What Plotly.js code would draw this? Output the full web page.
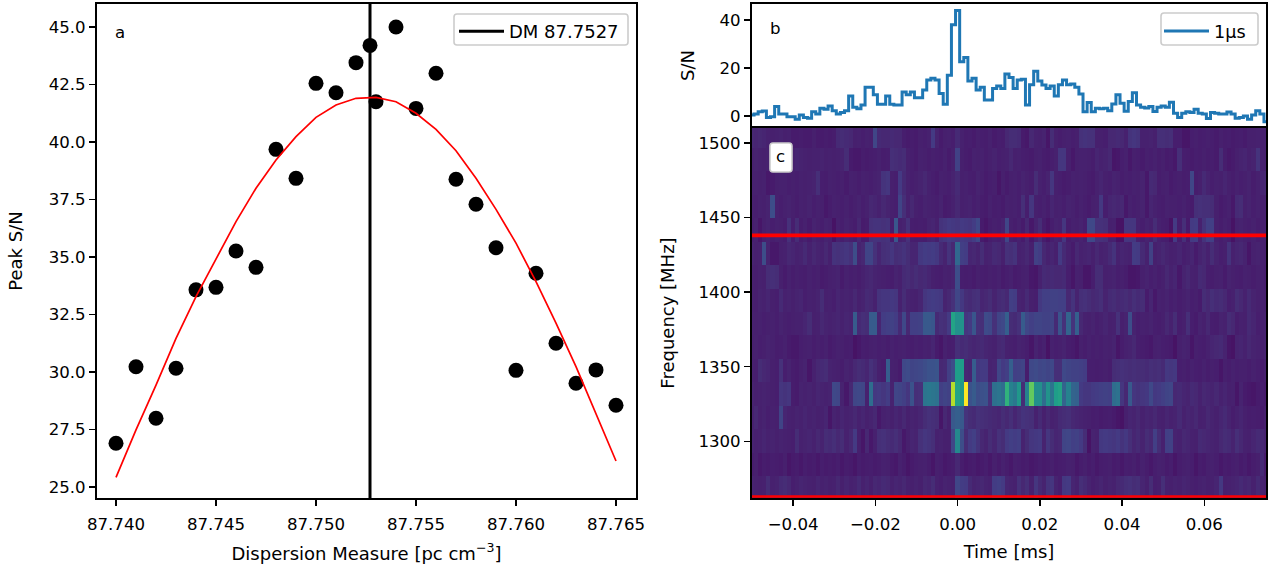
<!DOCTYPE html>
<html><head><meta charset="utf-8">
<script src="https://cdn.plot.ly/plotly-3.0.1.min.js"></script>
<style>html,body{margin:0;padding:0;background:#fff}#c{width:1271px;height:571px}</style>
</head><body><div id="c"></div>
<script>
// panel a
const dmPoints=[87.740,87.741,87.742,87.743,87.744,87.745,87.746,87.747,87.748,87.749,87.750,87.751,87.752,87.7527,87.753,87.754,87.755,87.756,87.757,87.758,87.759,87.760,87.761,87.762,87.763,87.764,87.765];
const peakSN=[26.9,30.23,27.99,30.16,33.57,33.68,35.26,34.55,39.68,38.42,42.55,42.14,43.45,44.2,41.75,45.0,41.46,42.99,38.38,37.29,35.4,30.07,34.29,31.25,29.51,30.09,28.55];
const dmFit=[87.740,87.741,87.742,87.743,87.744,87.745,87.746,87.747,87.748,87.749,87.750,87.751,87.752,87.753,87.754,87.755,87.756,87.757,87.758,87.759,87.760,87.761,87.762,87.763,87.764,87.765];
const fitSN=[25.42,27.48,29.43,31.46,33.28,34.94,36.54,37.99,39.22,40.23,41.07,41.61,41.9,41.94,41.75,41.25,40.55,39.62,38.42,37.07,35.6,33.93,32.12,30.23,28.2,26.13];
const bestDM=87.7527;
// panel b
const profile=[0.4,0.8,1.8,2.1,-0.6,-0.3,3.9,0.8,0.8,-0.3,
-0.3,-1.4,0.4,-0.6,-1,1.8,0.8,3.2,2.8,4.2,
2.2,0.8,1.4,2.2,8.3,3.6,3,4.6,12,12,
8.9,4.9,4.9,8.3,4.9,4.6,4.6,10,8.8,10,
7.6,7.6,10.8,15,15.7,15,9.4,4.9,17,38,
44,22.6,24.4,14.6,15.7,10.8,12,6.7,6.7,11.5,
12.5,11.5,17.5,16,11.5,15,15.3,4.6,13,18.6,
14.6,12.9,11.5,12.5,8.3,13,15,13,13.3,12,
9.2,1.8,5.6,1.8,3.2,3,3.2,2.2,5,8.8,
5.3,2,6,9.7,4.6,3.6,3.3,3.9,1.9,3.6,
4.2,3.6,5.7,1.1,-0.6,1.1,1.8,1.4,2.8,1.1,
0.8,-1.1,1.4,1.1,0.8,0.8,1.7,0.8,-1,-0.6,
0,-1.4,0.4,2.2,0.8,-2.4];
const timeMs=profile.map((_,k)=>+(-0.05+k*0.001).toFixed(3));
// panel c
const freqMHz=[1268.7,1284.4,1300.1,1315.9,1331.6,1347.3,1363,1378.7,1394.5,1410.2,1425.9,1441.6,1457.3,1473.1,1488.8,1504.5];
const rowTop=[12,11,12,11,9,8,9,10,8,9,5,5,6,5,5,8,5,5,6,5,6,13,14,13,12,8,9,7,9,8,25,13,12,12,13,12,12,7,5,6,5,8,7,9,20,10,5,8,9,7,13,9,6,7,5,8,7,6,9,5,7,6,12,14,14,13,5,4,12,9,8,10,3,14,8,6,8,9,7,8,16,17,16,16,8,8,7,12,12,13,12,9,17,18,17,9,9,10,8,15,15,14,15,7,7,3,3,7,8,6,7,8,7,5,8,6,7,5,6,7,5,8,8,9,8,9];
const row14=[9,10,9,8,9,7,8,9,7,6,9,11,10,9,8,9,9,10,8,9,8,9,10,14,5,4,4,6,5,6,7,9,6,7,15,14,13,14,8,7,5,9,8,6,8,7,6,9,5,8,23,8,6,5,9,8,9,6,8,10,7,8,9,12,8,9,7,6,5,8,9,6,5,7,9,18,18,8,4,8,9,9,8,6,11,9,10,12,3,4,7,9,4,8,7,5,8,7,9,6,8,5,6,4,15,7,6,5,7,6,8,6,7,5,14,6,4,5,8,10,11,8,10,17,9,8];
const row13=[9,9,8,9,4,5,8,9,9,7,8,7,9,8,9,10,15,7,6,9,8,7,8,5,9,8,6,9,8,7,9,10,17,18,8,7,20,13,9,7,8,10,12,9,7,5,9,8,7,10,13,8,9,7,6,10,8,5,7,8,3,8,5,8,9,7,10,8,6,14,9,7,10,18,8,7,5,6,9,8,9,8,6,5,9,11,8,7,10,9,6,8,7,9,8,10,4,13,12,6,8,9,5,7,8,6,7,25,6,8,13,10,7,9,8,11,8,6,9,7,8,10,6,9,11,12];
const row12=[8,7,9,8,10,28,9,7,9,10,8,6,9,8,10,7,9,8,4,6,9,8,7,9,6,8,10,7,9,12,11,9,12,10,8,7,24,15,9,12,8,7,10,9,8,7,10,5,6,9,12,8,9,10,7,9,6,5,9,6,7,5,9,8,9,7,15,7,18,8,7,9,6,11,8,9,7,10,9,6,9,7,5,8,9,19,7,11,12,11,12,4,9,7,8,10,4,11,9,7,6,9,8,8,7,9,6,5,15,16,15,15,14,8,5,7,9,4,13,14,8,10,7,9,8,9];
const row11=[7,9,3,8,10,7,9,8,6,16,7,14,6,9,5,10,8,7,10,9,2,9,7,10,8,6,12,5,6,16,17,17,16,17,6,32,8,10,16,7,6,7,6,10,11,8,17,18,20,19,18,20,19,18,21,26,5,3,6,8,7,10,25,8,6,9,5,12,4,10,14,6,3,7,10,9,18,6,9,8,10,7,26,26,16,16,15,8,9,2,2,18,18,18,9,7,10,8,14,9,7,6,2,20,6,15,5,20,21,9,17,22,22,8,6,9,7,2,9,10,8,7,9,6,8,9];
const row10=[10,8,9,28,10,4,4,8,9,12,11,9,10,13,9,12,10,9,12,8,17,16,17,18,16,28,10,12,24,24,16,11,15,16,18,14,15,17,14,11,11,19,21,20,21,19,13,10,17,12,40,22,21,11,12,10,14,9,10,13,12,8,16,15,17,9,10,12,8,23,21,12,9,11,8,20,13,9,5,12,9,10,11,8,12,9,10,13,17,9,11,10,9,21,20,13,9,23,8,10,12,10,8,9,11,7,9,11,5,10,12,9,14,10,7,8,17,9,11,12,10,3,9,10,9,8];
const row9=[8,7,9,8,14,15,14,8,5,9,6,8,7,6,9,7,8,5,6,8,9,10,5,9,7,8,6,9,11,12,10,9,8,7,6,10,8,13,14,12,14,12,13,11,8,7,6,9,8,10,28,7,6,7,5,8,7,6,8,7,9,5,7,9,5,6,8,9,4,3,9,13,12,13,12,12,13,7,3,9,8,3,3,7,14,14,8,9,10,7,8,6,3,3,4,8,10,7,9,6,8,12,9,11,4,10,12,9,8,13,12,7,6,8,9,5,10,8,7,6,9,8,6,8,9,7];
const row8=[8,7,10,9,11,8,7,13,9,10,8,10,11,7,9,8,10,14,8,9,7,11,9,10,9,12,8,10,13,12,9,17,18,18,19,18,9,14,10,9,8,11,18,20,21,20,19,10,12,16,25,19,14,13,15,16,11,12,14,10,13,14,12,22,21,10,9,13,8,7,19,22,22,23,23,22,22,12,17,10,15,16,14,12,13,15,10,13,14,12,13,14,12,15,13,14,5,11,4,9,8,10,7,9,6,8,10,7,8,5,14,12,15,13,14,12,7,9,14,12,9,13,10,8,9,8];
const row7=[9,8,9,7,8,9,7,10,8,7,8,9,9,11,14,8,9,12,10,9,10,11,9,11,10,34,13,15,14,34,34,11,21,22,23,21,13,26,12,22,22,23,33,33,32,13,16,15,20,62,55,56,18,20,32,16,15,27,26,16,24,26,36,14,13,16,34,25,22,24,24,23,23,24,13,31,16,38,17,36,12,9,8,10,7,9,11,8,9,16,8,10,28,10,7,9,8,10,7,6,8,12,9,14,6,8,15,7,5,10,8,12,7,6,10,9,14,12,6,9,8,13,11,7,9,10];
const row6=[8,9,7,8,10,9,6,7,9,5,4,4,7,8,9,6,8,7,9,5,7,9,8,6,7,2,4,7,6,8,9,7,8,6,9,7,8,9,7,6,8,7,9,8,11,5,3,9,6,7,15,13,14,12,11,12,13,11,10,9,12,13,9,8,7,10,9,7,3,10,6,9,2,9,7,8,10,6,5,3,8,6,9,7,8,7,9,8,10,3,6,9,10,12,7,6,5,4,8,9,7,6,5,2,8,10,9,3,8,7,6,9,11,12,13,10,3,2,10,11,9,12,10,9,8,10];
const row5=[8,7,14,12,11,8,7,16,7,10,6,5,8,10,3,9,12,13,14,10,9,8,6,10,8,12,14,13,11,16,13,8,6,35,9,8,5,26,27,24,25,26,28,30,30,31,12,13,22,28,60,60,12,11,35,19,20,20,10,11,25,20,22,36,22,23,24,6,26,27,25,26,24,26,15,15,26,24,23,23,22,21,7,7,6,7,8,6,14,15,16,15,14,15,14,14,13,15,14,15,13,19,18,19,7,8,6,9,7,6,9,6,8,7,3,8,6,9,7,8,8,6,9,7,5,8];
const row4=[10,8,9,10,9,8,7,18,17,18,6,5,10,9,10,8,11,10,9,10,26,25,10,4,12,25,26,25,9,42,19,20,18,21,10,25,24,22,18,30,15,16,45,46,45,44,22,24,23,90,62,58,100,30,34,28,29,30,16,43,45,42,68,50,46,58,14,50,78,55,55,42,56,45,60,62,38,50,38,37,20,18,18,20,21,22,23,22,42,44,18,12,33,18,17,18,19,26,19,20,22,24,25,12,13,11,10,13,12,9,12,11,10,12,9,11,8,9,3,10,5,4,3,5,7,5];
const row3=[9,12,8,10,7,9,8,24,11,9,8,10,9,11,9,10,8,9,11,3,10,8,11,9,10,12,9,11,8,10,12,4,9,10,8,11,9,12,8,10,9,11,14,16,15,14,3,12,8,33,36,33,17,14,13,16,15,14,13,12,11,14,12,15,11,14,17,16,15,9,13,8,12,9,10,13,14,15,12,11,10,9,8,6,7,5,6,7,5,3,2,8,11,10,12,9,11,10,12,9,8,11,9,10,13,9,11,10,12,8,9,12,10,8,11,13,10,6,9,11,8,6,7,6,5,8];
const row2=[10,8,9,11,9,10,8,10,9,8,7,14,9,10,11,9,12,10,14,13,15,12,14,9,12,20,8,3,12,4,9,15,16,14,13,15,12,4,8,11,10,16,18,17,15,9,10,8,8,25,52,28,14,20,22,17,12,10,14,11,16,14,20,22,21,22,10,14,18,19,20,10,18,14,11,12,24,25,22,23,20,14,2,10,9,19,20,19,18,20,17,19,15,11,13,10,14,12,22,14,9,22,23,10,9,12,11,9,8,13,12,11,10,9,12,14,13,10,15,12,9,8,11,13,12,10];
const row1=[6,8,4,6,5,7,6,5,8,3,5,6,4,7,5,6,4,7,5,6,5,7,4,6,5,3,7,5,6,7,5,6,9,8,5,4,9,6,3,5,7,8,9,6,3,8,7,4,5,6,12,6,4,5,6,4,5,7,4,8,5,9,6,4,8,7,5,6,4,5,7,5,6,8,5,6,7,9,8,4,6,8,5,7,4,6,7,8,5,6,4,7,6,8,5,9,6,4,7,9,8,5,7,3,6,8,9,7,3,6,5,8,9,7,4,6,5,7,8,5,7,4,6,8,13,5];
const row0=[10,9,8,9,14,9,10,13,14,12,7,9,11,10,9,8,11,9,10,8,9,12,8,11,9,10,13,9,11,8,12,11,13,12,9,11,10,12,9,8,10,8,12,11,14,9,7,10,9,8,25,21,20,13,10,11,12,10,9,21,22,20,11,10,9,16,12,15,9,18,13,10,17,18,10,7,19,20,11,9,15,13,10,7,9,11,8,10,9,12,13,15,16,14,15,11,8,14,7,8,15,9,8,10,9,11,10,8,7,9,10,8,9,11,19,8,9,10,11,13,11,12,9,13,10,8];
const waterfall=[row0,row1,row2,row3,row4,row5,row6,row7,row8,row9,row10,row11,row12,row13,row14,rowTop];
const badFreq=[1438,1263];
// colour stops: compressed at the low end so the noise floor stays an even purple
const heatScale=[[0,'#470e61'],[0.05,'#471b6c'],[0.1,'#472370'],[0.15,'#462f78'],[0.2,'#443a83'],[0.3,'#3b528b'],[0.4,'#31688e'],[0.5,'#26828e'],[0.6,'#1f9e89'],[0.7,'#35b779'],[0.8,'#6ece58'],[0.9,'#b5de2b'],[1,'#fde725']];
const W=1271,H=571;
const px=(a,b)=>[a/W,b/W], py=(t,b)=>[1-b/H,1-t/H];
const font={family:'"DejaVu Sans",sans-serif',size:16.6,color:'#000'};
const titleFont={family:font.family,size:18,color:'#000'};
const ax=o=>Object.assign({showgrid:false,zeroline:false,showline:true,mirror:true,linecolor:'#000',linewidth:2,ticks:'outside',ticklen:6,tickwidth:1.4,tickcolor:'#000',tickfont:font,automargin:false},o);
const rbox=(x0,y0,x1,y1,r)=>{const X=v=>v/W,Y=v=>1-v/H,rx=r/W,ry=r/H;return {type:'path',xref:'paper',yref:'paper',layer:'above',fillcolor:'#fff',line:{color:'#ccc',width:1.6},
 path:`M${X(x0)+rx},${Y(y0)} L${X(x1)-rx},${Y(y0)} Q${X(x1)},${Y(y0)} ${X(x1)},${Y(y0)-ry} L${X(x1)},${Y(y1)+ry} Q${X(x1)},${Y(y1)} ${X(x1)-rx},${Y(y1)} L${X(x0)+rx},${Y(y1)} Q${X(x0)},${Y(y1)} ${X(x0)},${Y(y1)+ry} L${X(x0)},${Y(y0)-ry} Q${X(x0)},${Y(y0)} ${X(x0)+rx},${Y(y0)} Z`};};
const traces=[
 {type:'scatter',mode:'markers',x:dmPoints,y:peakSN,marker:{color:'#000',size:15},showlegend:false,xaxis:'x',yaxis:'y'},
 {type:'scatter',mode:'lines',x:[bestDM,bestDM],y:[24.52,46],line:{color:'#000',width:3},name:'DM 87.7527',showlegend:true,legend:'legend',xaxis:'x',yaxis:'y'},
 {type:'scatter',mode:'lines',x:dmFit,y:fitSN,line:{color:'#ff0000',width:1.7},showlegend:false,xaxis:'x',yaxis:'y'},
 {type:'scatter',mode:'lines',x:timeMs,y:profile,line:{color:'#1f77b4',width:3,shape:'hvh'},name:'1µs',showlegend:true,legend:'legend2',xaxis:'x2',yaxis:'y2'},
 {type:'heatmap',x:timeMs,y:freqMHz,z:waterfall,colorscale:heatScale,zmin:0,zmax:100,zsmooth:false,showscale:false,xaxis:'x3',yaxis:'y3'},
 {type:'scatter',mode:'lines',x:[-0.05,0.075],y:[badFreq[0],badFreq[0]],line:{color:'#ff0000',width:3.6},showlegend:false,xaxis:'x3',yaxis:'y3'},
 {type:'scatter',mode:'lines',x:[-0.05,0.075],y:[badFreq[1],badFreq[1]],line:{color:'#ff0000',width:2.5},showlegend:false,xaxis:'x3',yaxis:'y3'}
];
const layout={width:W,height:H,margin:{l:0,r:0,t:0,b:0},paper_bgcolor:'#fff',plot_bgcolor:'#fff',font:font,showlegend:true,
 xaxis:ax({domain:px(97,636),range:[87.73905,87.766],dtick:0.005,tick0:87.74,tickformat:'.3f',anchor:'y',ticklabelstandoff:4,title:{text:'Dispersion Measure [pc cm<sup>−3</sup>]',font:titleFont,standoff:14}}),
 yaxis:ax({domain:py(4,498),range:[24.52,46],dtick:2.5,tick0:25,tickformat:'.1f',anchor:'x',title:{text:'Peak S/N',font:titleFont,standoff:21}}),
 xaxis2:ax({domain:px(752,1266),range:[-0.05,0.075],ticks:'',showticklabels:false,anchor:'y2'}),
 yaxis2:ax({domain:py(4,127),range:[-4.6,46.7],tickvals:[0,20,40],anchor:'x2',title:{text:'S/N',font:titleFont,standoff:20}}),
 xaxis3:ax({domain:px(752,1266),range:[-0.05,0.075],tickvals:[-0.04,-0.02,0,0.02,0.04,0.06],tickformat:'.2f',anchor:'y3',ticklabelstandoff:4,title:{text:'Time [ms]',font:titleFont,standoff:12}}),
 yaxis3:ax({domain:py(128,498),range:[1262,1510],tickvals:[1300,1350,1400,1450,1500],anchor:'x3',title:{text:'Frequency [MHz]',font:titleFont,standoff:19}}),
 legend:{x:454/W,y:1-13/H,xanchor:'left',yanchor:'top',bgcolor:'rgba(0,0,0,0)',borderwidth:0,font:{family:font.family,size:18,color:'#000'},itemwidth:45},
 legend2:{x:1159/W,y:1-13/H,xanchor:'left',yanchor:'top',bgcolor:'rgba(0,0,0,0)',borderwidth:0,font:{family:font.family,size:17.6,color:'#000'},itemwidth:45},
 shapes:[rbox(454,14,628,45,3),rbox(1161,13,1258,45,3),rbox(770,143,792,172,3)],
 annotations:[
  {text:'a',xref:'paper',yref:'paper',x:120/W,y:1-33/H,showarrow:false,font:{family:font.family,size:16.6,color:'#000'},xanchor:'center',yanchor:'middle'},
  {text:'b',xref:'paper',yref:'paper',x:775/W,y:1-29/H,showarrow:false,font:{family:font.family,size:16.6,color:'#000'},xanchor:'center',yanchor:'middle'},
  {text:'c',xref:'paper',yref:'paper',x:780/W,y:1-157/H,showarrow:false,font:{family:font.family,size:16.6,color:'#000'},xanchor:'center',yanchor:'middle'}
 ]};
Plotly.newPlot('c',traces,layout,{displayModeBar:false,staticPlot:true});
</script></body></html>
